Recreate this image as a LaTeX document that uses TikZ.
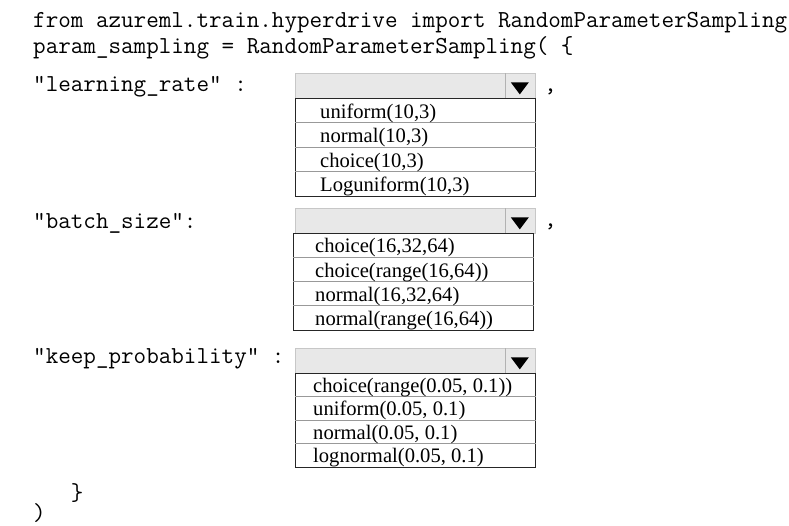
\documentclass[tikz,border=0pt]{standalone}
\usepackage{fontspec}
\setmainfont{Liberation Serif}
\usetikzlibrary{calc}
\tikzset{code/.style={anchor=base west, inner sep=0pt, font=\ttfamily\fontsize{24.4}{26}\selectfont},
item/.style={anchor=base west, inner sep=0pt, font=\fontsize{20.6}{24}\selectfont},
head/.style={draw=black!22, fill=black!9, line width=0.8pt, minimum width=240, minimum height=25, anchor=north west, inner sep=0pt},
listbox/.style={draw=black!85, line width=1.1pt, minimum width=240, anchor=north west, inner sep=0pt},
sep/.style={draw=black!40, line width=0.8pt},
arrowtri/.style={fill=black}}

\begin{document}
\begin{tikzpicture}[x=1pt,y=-1pt]
\useasboundingbox (0,0) rectangle (789,525);

\node[code] (line1) at (33,27) {from azureml.train.hyperdrive import RandomParameterSampling};
\node[code] (line2) at (33,53) {param\_sampling = RandomParameterSampling( \{};

% learning rate
\node[code] (lrkey) at (33,91) {"learning\_rate" :};
\node[head] (lrhead) at (295,73) {};
\draw[black!30] ([xshift=-31]lrhead.north east) -- ([xshift=-31]lrhead.south east);
\fill[arrowtri] ($(lrhead.east)+(-25,-3.5)$) -- ($(lrhead.east)+(-7,-3.5)$) -- ($(lrhead.east)+(-16,8.5)$) -- cycle;
\node[code] (lrcomma) at (544,91) {,};
\node[listbox, minimum height=98] (lrlist) at (295,98) {};
\foreach \i in {1,2,3}
    \draw[sep] ($(lrlist.north west)+(0,24.5*\i)$) -- ($(lrlist.north east)+(0,24.5*\i)$);
\foreach \t [count=\i] in {{uniform(10,3)},{normal(10,3)},{choice(10,3)},{Loguniform(10,3)}}
    \node[item] (lr\i) at ($(lrlist.north west)+(25,20+24.5*\i-24.5)$) {\t};

% batch size
\node[code] (bskey) at (33,228) {"batch\_size":};
\node[head] (bshead) at (295,208) {};
\draw[black!30] ([xshift=-31]bshead.north east) -- ([xshift=-31]bshead.south east);
\fill[arrowtri] ($(bshead.east)+(-25,-3.5)$) -- ($(bshead.east)+(-7,-3.5)$) -- ($(bshead.east)+(-16,8.5)$) -- cycle;
\node[code] (bscomma) at (544,226) {,};
\node[listbox, minimum height=97] (bslist) at (293,233) {};
\foreach \i in {1,2,3}
    \draw[sep] ($(bslist.north west)+(0,24.25*\i)$) -- ($(bslist.north east)+(0,24.25*\i)$);
\foreach \t [count=\i] in {{choice(16,32,64)},{choice(range(16,64))},{normal(16,32,64)},{normal(range(16,64))}}
    \node[item] (bs\i) at ($(bslist.north west)+(22,19.8+24.25*\i-24.25)$) {\t};

% keep probability
\node[code] (kpkey) at (33,363) {"keep\_probability" :};
\node[head] (kphead) at (295,348) {};
\draw[black!30] ([xshift=-31]kphead.north east) -- ([xshift=-31]kphead.south east);
\fill[arrowtri] ($(kphead.east)+(-25,-3.5)$) -- ($(kphead.east)+(-7,-3.5)$) -- ($(kphead.east)+(-16,8.5)$) -- cycle;
\node[listbox, minimum height=94] (kplist) at (295,373) {};
\foreach \i in {1,2,3}
    \draw[sep] ($(kplist.north west)+(0,23.5*\i)$) -- ($(kplist.north east)+(0,23.5*\i)$);
\foreach \t [count=\i] in {{choice(range(0.05, 0.1))},{uniform(0.05, 0.1)},{normal(0.05, 0.1)},{lognormal(0.05, 0.1)}}
    \node[item] (kp\i) at ($(kplist.north west)+(18,19.3+23.5*\i-23.5)$) {\t};

\node[code] (close1) at (33,500) {\ \ \ \}};
\node[code] (close2) at (33,520) {)};

\end{tikzpicture}
\end{document}
